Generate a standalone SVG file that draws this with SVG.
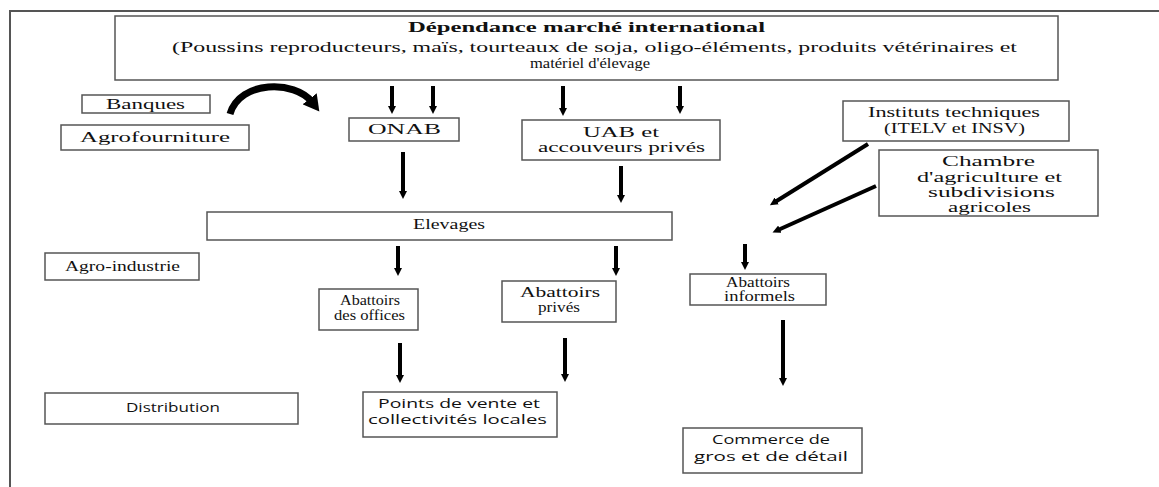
<svg xmlns="http://www.w3.org/2000/svg" width="1159" height="487" viewBox="0 0 1159 487">
<style>
.box{fill:#fff;stroke:#555;stroke-width:1.5}
.s{font-family:"Liberation Serif","Times New Roman",serif;font-size:14px;fill:#111}
.ss{font-family:"Open Sans","Liberation Sans",sans-serif;font-size:13px;fill:#111}
.b{font-weight:bold}
.ar{stroke:#000;stroke-width:4;fill:none;marker-end:url(#ah)}
.frame{stroke:#555;stroke-width:2;fill:none}
</style>
<defs>
<marker id="ah" markerUnits="userSpaceOnUse" markerWidth="10" markerHeight="8" refX="2" refY="4" orient="auto">
<path d="M0,0 L8,4 L0,8 Z" fill="#000"/>
</marker>
<marker id="ahc" markerUnits="userSpaceOnUse" markerWidth="20" markerHeight="18" refX="4" refY="9" orient="auto">
<path d="M0,0 L16,9 L0,18 Z" fill="#000"/>
</marker>
</defs>
<rect width="1159" height="487" fill="#fff"/>
<path class="frame" d="M9,11 H1159 M10,11 V487"/>

<g id="intl">
<rect class="box" x="115" y="16" width="943" height="64"/>
<text class="s b" x="408" y="32" textLength="357" lengthAdjust="spacingAndGlyphs">Dépendance marché international</text>
<text class="s" x="172" y="52" textLength="845" lengthAdjust="spacingAndGlyphs">(Poussins reproducteurs, maïs, tourteaux de soja, oligo-éléments, produits vétérinaires et</text>
<text class="s" x="530" y="68" textLength="120" lengthAdjust="spacingAndGlyphs">matériel d'élevage</text>
</g>
<g id="banques">
<rect class="box" x="82" y="95" width="128" height="18"/>
<text class="s" x="106" y="109" textLength="79" lengthAdjust="spacingAndGlyphs">Banques</text>
</g>
<g id="agrofourniture">
<rect class="box" x="61" y="125" width="188" height="25"/>
<text class="s" x="80" y="142" textLength="150" lengthAdjust="spacingAndGlyphs">Agrofourniture</text>
</g>
<g id="onab">
<rect class="box" x="349" y="118" width="110" height="23"/>
<text class="s" x="368" y="134" textLength="73" lengthAdjust="spacingAndGlyphs">ONAB</text>
</g>
<g id="uab">
<rect class="box" x="522" y="120" width="198" height="40"/>
<text class="s" x="583" y="137" textLength="76" lengthAdjust="spacingAndGlyphs">UAB et</text>
<text class="s" x="538" y="152" textLength="167" lengthAdjust="spacingAndGlyphs">accouveurs privés</text>
</g>
<g id="instituts">
<rect class="box" x="843" y="101" width="226" height="40"/>
<text class="s" x="868" y="117" textLength="172" lengthAdjust="spacingAndGlyphs">Instituts techniques</text>
<text class="s" x="884" y="133" textLength="141" lengthAdjust="spacingAndGlyphs">(ITELV et INSV)</text>
</g>
<g id="chambre">
<rect class="box" x="879" y="150" width="219" height="66"/>
<text class="s" x="942" y="166" textLength="93" lengthAdjust="spacingAndGlyphs">Chambre</text>
<text class="s" x="917" y="182" textLength="145" lengthAdjust="spacingAndGlyphs">d'agriculture et</text>
<text class="s" x="928" y="197" textLength="127" lengthAdjust="spacingAndGlyphs">subdivisions</text>
<text class="s" x="948" y="212" textLength="83" lengthAdjust="spacingAndGlyphs">agricoles</text>
</g>
<g id="elevages">
<rect class="box" x="207" y="212" width="465" height="28"/>
<text class="s" x="413" y="229" textLength="72" lengthAdjust="spacingAndGlyphs">Elevages</text>
</g>
<g id="agroindustrie">
<rect class="box" x="45" y="253" width="154" height="27"/>
<text class="s" x="65" y="271" textLength="115" lengthAdjust="spacingAndGlyphs">Agro-industrie</text>
</g>
<g id="abattoirs-offices">
<rect class="box" x="319" y="289" width="99" height="41"/>
<text class="s" x="340" y="305" textLength="60" lengthAdjust="spacingAndGlyphs">Abattoirs</text>
<text class="s" x="334" y="320" textLength="71" lengthAdjust="spacingAndGlyphs">des offices</text>
</g>
<g id="abattoirs-prives">
<rect class="box" x="502" y="281" width="114" height="41"/>
<text class="s" x="520" y="297" textLength="80" lengthAdjust="spacingAndGlyphs">Abattoirs</text>
<text class="s" x="538" y="312" textLength="42" lengthAdjust="spacingAndGlyphs">privés</text>
</g>
<g id="abattoirs-informels">
<rect class="box" x="690" y="274" width="136" height="31"/>
<text class="s" x="726" y="287" textLength="64" lengthAdjust="spacingAndGlyphs">Abattoirs</text>
<text class="s" x="724" y="301" textLength="71" lengthAdjust="spacingAndGlyphs">informels</text>
</g>
<g id="distribution">
<rect class="box" x="45" y="393" width="253" height="31"/>
<text class="ss" x="126" y="412" textLength="94" lengthAdjust="spacingAndGlyphs">Distribution</text>
</g>
<g id="points-vente">
<rect class="box" x="363" y="392" width="194" height="45"/>
<text class="ss" x="378" y="408" textLength="162" lengthAdjust="spacingAndGlyphs">Points de vente et</text>
<text class="ss" x="368" y="424" textLength="179" lengthAdjust="spacingAndGlyphs">collectivités locales</text>
</g>
<g id="commerce">
<rect class="box" x="683" y="428" width="179" height="45"/>
<text class="ss" x="712" y="444" textLength="118" lengthAdjust="spacingAndGlyphs">Commerce de</text>
<text class="ss" x="694" y="461" textLength="154" lengthAdjust="spacingAndGlyphs">gros et de détail</text>
</g>

<g id="connectors">
<line class="ar" x1="392" y1="86" x2="392" y2="108"/>
<line class="ar" x1="433" y1="86" x2="433" y2="108"/>
<line class="ar" x1="563" y1="86" x2="563" y2="110"/>
<line class="ar" x1="680" y1="86" x2="680" y2="108"/>
<line class="ar" x1="403" y1="152" x2="403" y2="193"/>
<line class="ar" x1="621" y1="166" x2="621" y2="197"/>
<line class="ar" x1="398" y1="246" x2="398" y2="270"/>
<line class="ar" x1="616" y1="246" x2="616" y2="270"/>
<line class="ar" x1="745" y1="244" x2="745" y2="264"/>
<line class="ar" x1="400" y1="343" x2="400" y2="377"/>
<line class="ar" x1="565" y1="338" x2="565" y2="376"/>
<line class="ar" x1="783" y1="320" x2="783" y2="380"/>
<line class="ar" x1="868" y1="144" x2="775" y2="202"/>
<line class="ar" x1="876" y1="186" x2="778" y2="230"/>
<path d="M230,114 C240,80 295,80 312,102" stroke="#000" stroke-width="7" fill="none" marker-end="url(#ahc)"/>
</g>
</svg>
